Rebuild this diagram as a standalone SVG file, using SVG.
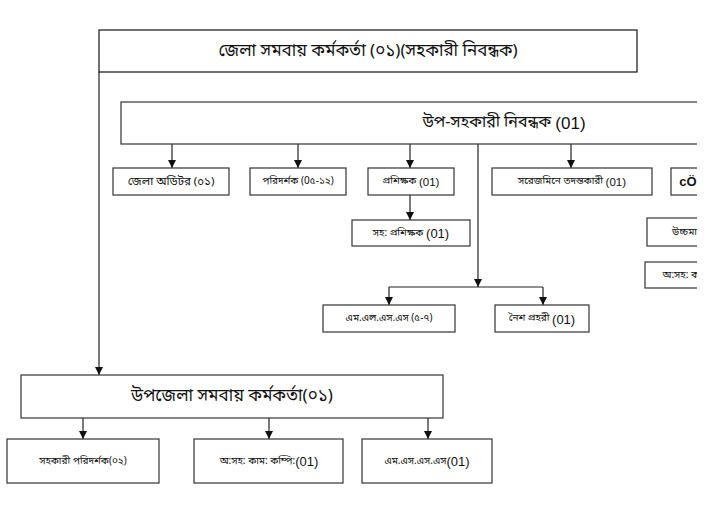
<svg xmlns="http://www.w3.org/2000/svg" width="715" height="516" viewBox="0 0 715 516">
<style>
.box{fill:#fff;stroke:#333;stroke-width:1.2}
.ln{fill:none;stroke:#222;stroke-width:1.2}
text{font-family:"Noto Sans Bengali","Noto Sans","Liberation Sans",sans-serif;fill:#111;text-anchor:middle;dominant-baseline:central}
.t1{font-size:17px}
.t2{font-size:16px}
.s{font-size:10px}
.m{font-size:11.5px}
.n{font-family:"Liberation Sans",Arial,sans-serif}
</style>
<defs>
<marker id="ah" viewBox="0 0 10 10" refX="10" refY="5" markerWidth="8" markerHeight="8" markerUnits="userSpaceOnUse" orient="auto">
<path d="M0,0 L10,5 L0,10 z" fill="#111"/>
</marker>
<clipPath id="cut"><rect x="0" y="0" width="697" height="516"/></clipPath>
</defs>
<rect width="715" height="516" fill="#fff"/>
<g clip-path="url(#cut)">
<g id="connectors">
<path class="ln" d="M99,72 V375" marker-end="url(#ah)"/>
<path class="ln" d="M172,144 V168" marker-end="url(#ah)"/>
<path class="ln" d="M298,144 V168" marker-end="url(#ah)"/>
<path class="ln" d="M410,144 V168" marker-end="url(#ah)"/>
<path class="ln" d="M571,144 V168" marker-end="url(#ah)"/>
<path class="ln" d="M410,195 V220" marker-end="url(#ah)"/>
<path class="ln" d="M478,144 V287" marker-end="url(#ah)"/>
<path class="ln" d="M389,287 H543"/>
<path class="ln" d="M389,287 V305" marker-end="url(#ah)"/>
<path class="ln" d="M543,287 V305" marker-end="url(#ah)"/>
<path class="ln" d="M83,418 V439" marker-end="url(#ah)"/>
<path class="ln" d="M269,418 V439" marker-end="url(#ah)"/>
<path class="ln" d="M428,418 V439" marker-end="url(#ah)"/>
</g>
<g id="n-district">
<rect class="box" x="99" y="30" width="538" height="42" style="stroke:#111"/>
<text class="t1" x="368" y="51">জেলা সমবায় কর্মকর্তা (০১)(সহকারী নিবন্ধক)</text>
</g>
<g id="n-asst-registrar">
<rect class="box" x="121" y="102" width="620" height="42"/>
<text class="t2" x="504" y="123">উপ-সহকারী নিবন্ধক <tspan class="n" font-size="17">(01)</tspan></text>
</g>
<g id="n-auditor">
<rect class="box" x="113" y="168" width="116" height="27"/>
<text class="m" x="171" y="181.5">জেলা অডিটর (০১)</text>
</g>
<g id="n-inspector">
<rect class="box" x="250" y="168" width="96" height="27"/>
<text class="s" x="298" y="181.5">পরিদর্শক (0৫-১২)</text>
</g>
<g id="n-trainer">
<rect class="box" x="368" y="168" width="86" height="27"/>
<text class="s" x="411" y="181.5">প্রশিক্ষক <tspan class="n" font-size="11.5">(01)</tspan></text>
</g>
<g id="n-investigator">
<rect class="box" x="492" y="168" width="160" height="27"/>
<text class="s" x="572" y="181.5">সরেজমিনে তদন্তকারী <tspan class="n" font-size="11.5">(01)</tspan></text>
</g>
<g id="n-cut1">
<rect class="box" x="671" y="168" width="60" height="27"/>
<text x="688" y="181.5" style="font-family:'Liberation Sans',sans-serif;font-size:13px;font-weight:bold">cÖ</text>
</g>
<g id="n-asst-trainer">
<rect class="box" x="352" y="220" width="118" height="26"/>
<text class="s" x="411" y="233">সহ: প্রশিক্ষক <tspan class="n" font-size="13">(01)</tspan></text>
</g>
<g id="n-cut2">
<rect class="box" x="647" y="218" width="80" height="28"/>
<text class="s" x="697" y="232" style="text-anchor:end">উচ্চমা</text>
</g>
<g id="n-cut3">
<rect class="box" x="645" y="262" width="80" height="26"/>
<text class="s" x="699" y="275" style="text-anchor:end">অ:সহ: ক</text>
</g>
<g id="n-mlss">
<rect class="box" x="323" y="305" width="132" height="27"/>
<text class="s" x="389" y="318.5">এম.এল.এস.এস (৫-৭)</text>
</g>
<g id="n-guard">
<rect class="box" x="495" y="305" width="94" height="27"/>
<text class="s" x="542" y="318.5">নৈশ প্রহরী <tspan class="n" font-size="13">(01)</tspan></text>
</g>
<g id="n-upazila">
<rect class="box" x="21" y="375" width="422" height="43"/>
<text class="t1" x="232" y="396.5">উপজেলা সমবায় কর্মকর্তা(০১)</text>
</g>
<g id="n-asst-inspector">
<rect class="box" x="7" y="439" width="152" height="44"/>
<text class="s" x="83" y="461">সহকারী পরিদর্শক(০২)</text>
</g>
<g id="n-computer">
<rect class="box" x="194" y="439" width="149" height="44"/>
<text class="s" x="269" y="461">অ:সহ: কাম: কম্পি:<tspan class="n" font-size="13">(01)</tspan></text>
</g>
<g id="n-msss">
<rect class="box" x="362" y="439" width="130" height="44"/>
<text class="s" x="427" y="461">এম.এস.এস.এস<tspan class="n" font-size="13">(01)</tspan></text>
</g>
</g>
</svg>
